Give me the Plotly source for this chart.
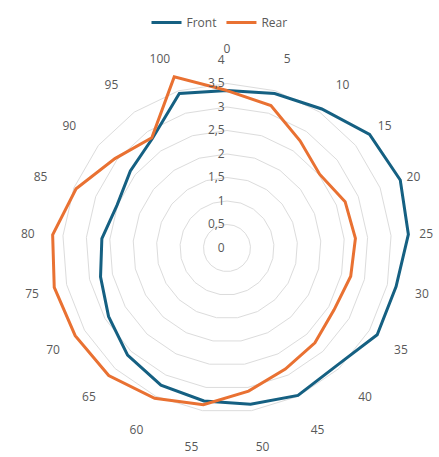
import plotly.graph_objects as go

categories = [str(v) for v in range(0, 101, 5)]
front = [3.35, 3.44, 3.58, 3.88, 3.96, 3.87, 3.69, 3.69, 3.42, 3.48, 3.36,
         3.29, 3.24, 3.11, 2.91, 2.76, 2.67, 2.51, 2.63, 2.82, 3.44]
rear = [3.35, 3.17, 2.76, 2.52, 2.70, 2.74, 2.70, 2.63, 2.75, 2.86, 3.08,
        3.37, 3.55, 3.70, 3.73, 3.77, 3.72, 3.45, 3.05, 2.84, 3.81]
radial_ticks = [0, 0.5, 1, 1.5, 2, 2.5, 3, 3.5, 4]
radial_labels = ["0", "0,5", "1", "1,5", "2", "2,5", "3", "3,5", "4"]

W, H = 439, 457
cx, cy, R = 227, 248, 188

fig = go.Figure()
fig.add_trace(go.Scatterpolar(r=front + front[:1], theta=categories + categories[:1],
                              mode="lines", name="Front",
                              line=dict(color="#156082", width=3)))
fig.add_trace(go.Scatterpolar(r=rear + rear[:1], theta=categories + categories[:1],
                              mode="lines", name="Rear",
                              line=dict(color="#E97132", width=3)))

fig.update_layout(
    width=W, height=H,
    margin=dict(l=0, r=0, t=0, b=0),
    paper_bgcolor="white", plot_bgcolor="white",
    font=dict(family="Open Sans, Lato, sans-serif", size=12, color="#595959"),
    showlegend=True,
    legend=dict(orientation="h", x=0.5, xanchor="center", y=1 - 8 / H, yanchor="top",
                font=dict(size=12, color="#595959")),
    polar=dict(
        domain=dict(x=[(cx - R) / W, (cx + R) / W], y=[(H - cy - R) / H, (H - cy + R) / H]),
        gridshape="linear",
        bgcolor="white",
        angularaxis=dict(rotation=90, direction="clockwise", showgrid=False,
                         showline=False, ticks="outside", ticklen=2,
                         tickcolor="rgba(0,0,0,0)", categoryorder="array",
                         categoryarray=categories,
                         tickfont=dict(size=12, color="#595959")),
        radialaxis=dict(range=[0, 4], tickvals=radial_ticks, ticktext=radial_labels,
                        angle=90, tickangle=90, side="counterclockwise",
                        showline=False, ticks="",
                        gridcolor="#DCDCDC", gridwidth=1,
                        tickfont=dict(size=12, color="#595959")),
    ),
)

fig.write_html("out.html")
